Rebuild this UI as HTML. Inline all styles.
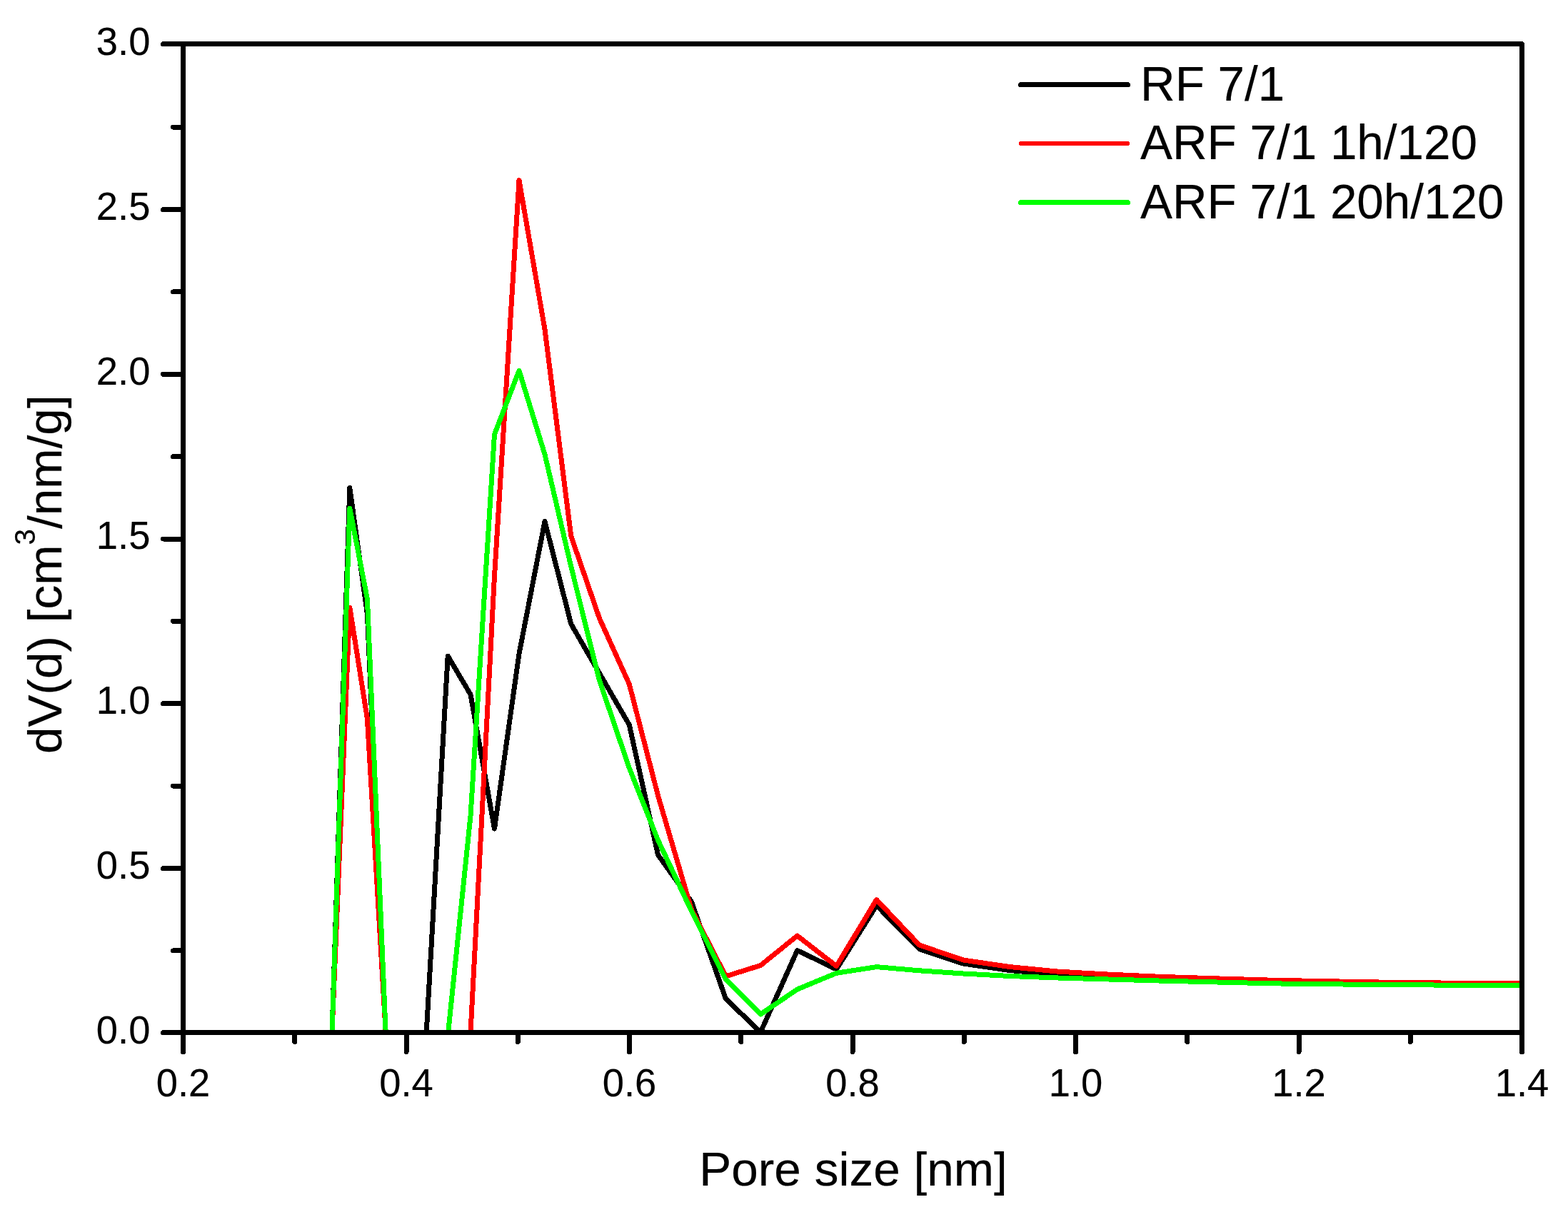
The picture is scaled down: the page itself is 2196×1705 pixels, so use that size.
<!DOCTYPE html>
<html lang="en"><head><meta charset="utf-8"><title>Pore size distribution</title>
<style>html,body{margin:0;padding:0;background:#fff}body{width:2196px;height:1705px;overflow:hidden}svg{display:block}text{font-family:"Liberation Sans",Arial,Helvetica,sans-serif;fill:#000}</style></head><body>
<svg width="2196" height="1705" viewBox="0 0 2196 1705">
<rect width="2196" height="1705" fill="#fff"/>
<defs><clipPath id="c"><rect x="253" y="58" width="1882" height="1392"/></clipPath></defs>
<g clip-path="url(#c)" shape-rendering="crispEdges">
<polyline points="465.0,1446.5 489.8,683.5 514.4,860.0 540.2,1446.5 569.0,1446.5 597.2,1446.5 627.2,919.0 659.0,973.0 692.5,1161.0 727.0,916.0 763.0,730.5 799.8,874.3 839.4,943.0 881.3,1015.5 921.5,1197.5 968.5,1263.5 1016.5,1399.5 1065.2,1446.0 1116.6,1331.5 1171.4,1358.0 1227.6,1268.5 1287.5,1329.5 1349.0,1350.0 1413.8,1359.5 1481.5,1365.3 1552.4,1367.9 1626.6,1370.1 1704.1,1372.4 1785.3,1374.8 1870.1,1376.4 1958.9,1378.0 2051.8,1378.8 2149.0,1379.6" fill="none" stroke="#000" stroke-width="7" stroke-linejoin="round" stroke-linecap="round"/>
<polyline points="465.0,1446.5 489.8,851.0 514.4,1007.0 540.2,1446.5 569.0,1446.5 597.6,1446.5 627.7,1446.5 659.0,1446.5 692.5,807.0 727.0,252.7 763.0,461.5 799.8,751.2 839.4,866.0 881.3,958.5 921.5,1114.5 968.5,1274.5 1016.5,1367.8 1065.2,1352.5 1116.6,1311.0 1171.4,1353.5 1227.6,1260.5 1287.5,1324.0 1349.0,1345.0 1413.8,1354.5 1481.5,1361.1 1552.4,1365.1 1626.6,1368.4 1704.1,1370.9 1785.3,1373.3 1870.1,1374.9 1958.9,1376.5 2051.8,1377.3 2149.0,1378.1" fill="none" stroke="#f00" stroke-width="7" stroke-linejoin="round" stroke-linecap="round"/>
<polyline points="465.0,1446.5 489.8,712.0 514.4,839.0 540.2,1446.5 569.0,1446.5 597.6,1446.5 627.7,1446.5 659.0,1143.0 692.5,608.5 727.0,519.2 763.0,636.6 799.8,794.0 839.4,953.0 881.3,1076.0 921.5,1177.0 968.5,1276.6 1016.5,1372.4 1065.2,1421.0 1116.6,1386.0 1171.4,1363.3 1227.6,1354.6 1287.5,1359.8 1349.0,1364.0 1413.8,1367.5 1481.5,1370.0 1552.4,1372.0 1626.6,1374.1 1704.1,1376.0 1785.3,1377.9 1870.1,1378.9 1958.9,1379.8 2051.8,1380.2 2149.0,1380.6" fill="none" stroke="#0f0" stroke-width="7" stroke-linejoin="round" stroke-linecap="round"/>
</g>
<g stroke="#000" stroke-width="7" fill="none" shape-rendering="crispEdges">
<path d="M228.5 1446.5H256.5M242.5 1331.9H256.5M228.5 1216.5H256.5M242.5 1101.1H256.5M228.5 985.8H256.5M242.5 870.4H256.5M228.5 755.0H256.5M242.5 639.6H256.5M228.5 524.2H256.5M242.5 408.9H256.5M228.5 293.5H256.5M242.5 178.1H256.5M228.5 61.5H256.5M256.50 1446.5V1473.5M412.75 1446.5V1459.5M569.00 1446.5V1473.5M725.25 1446.5V1459.5M881.50 1446.5V1473.5M1037.75 1446.5V1459.5M1194.00 1446.5V1473.5M1350.25 1446.5V1459.5M1506.50 1446.5V1473.5M1662.75 1446.5V1459.5M1819.00 1446.5V1473.5M1975.25 1446.5V1459.5M2131.50 1446.5V1473.5" stroke-linecap="round"/>
<path d="M256.5 1446.5V61.5H2131.5V1446.5H256.5" stroke-linecap="butt" stroke-linejoin="round"/>
</g>
<g font-size="54.4" text-anchor="end" stroke="#000" stroke-width="0.15">
<text transform="translate(210.4 1461.5) scale(1 1.025)">0.0</text>
<text transform="translate(210.4 1230.7) scale(1 1.025)">0.5</text>
<text transform="translate(210.4 1000.0) scale(1 1.025)">1.0</text>
<text transform="translate(210.4 769.2) scale(1 1.025)">1.5</text>
<text transform="translate(210.4 538.5) scale(1 1.025)">2.0</text>
<text transform="translate(210.4 307.7) scale(1 1.025)">2.5</text>
<text transform="translate(210.4 77.0) scale(1 1.025)">3.0</text>
</g>
<g font-size="54.4" text-anchor="middle" stroke="#000" stroke-width="0.15">
<text transform="translate(256.5 1535.8) scale(1 1.025)">0.2</text>
<text transform="translate(569.0 1535.8) scale(1 1.025)">0.4</text>
<text transform="translate(881.5 1535.8) scale(1 1.025)">0.6</text>
<text transform="translate(1194.0 1535.8) scale(1 1.025)">0.8</text>
<text transform="translate(1506.5 1535.8) scale(1 1.025)">1.0</text>
<text transform="translate(1819.0 1535.8) scale(1 1.025)">1.2</text>
<text transform="translate(2131.5 1535.8) scale(1 1.025)">1.4</text>
</g>
<text x="1195" y="1660.8" font-size="67.5" text-anchor="middle" stroke="#000" stroke-width="0.2">Pore size [nm]</text>
<text transform="translate(86.2 1056) rotate(-90)" font-size="67.5" text-anchor="start" stroke="#000" stroke-width="0.2">dV(d) [cm<tspan font-size="40.5" dy="-37.5">3</tspan><tspan dy="37.5">/nm/g]</tspan></text>
<g stroke-linecap="round" shape-rendering="crispEdges">
<line x1="1429.5" y1="118.5" x2="1579.5" y2="118.5" stroke="#000" stroke-width="7"/>
<line x1="1429.5" y1="201" x2="1579.5" y2="201" stroke="#f00" stroke-width="6"/>
<line x1="1429.5" y1="283.5" x2="1579.5" y2="283.5" stroke="#0f0" stroke-width="7"/>
</g>
<g font-size="67.4" stroke="#000" stroke-width="0.2">
<text transform="translate(1597 141.3) scale(1 1.025)">RF 7/1</text>
<text transform="translate(1597 223.2) scale(1 1.025)">ARF 7/1 1h/120</text>
<text transform="translate(1597 305.7) scale(1 1.025)">ARF 7/1 20h/120</text>
</g>
</svg></body></html>
